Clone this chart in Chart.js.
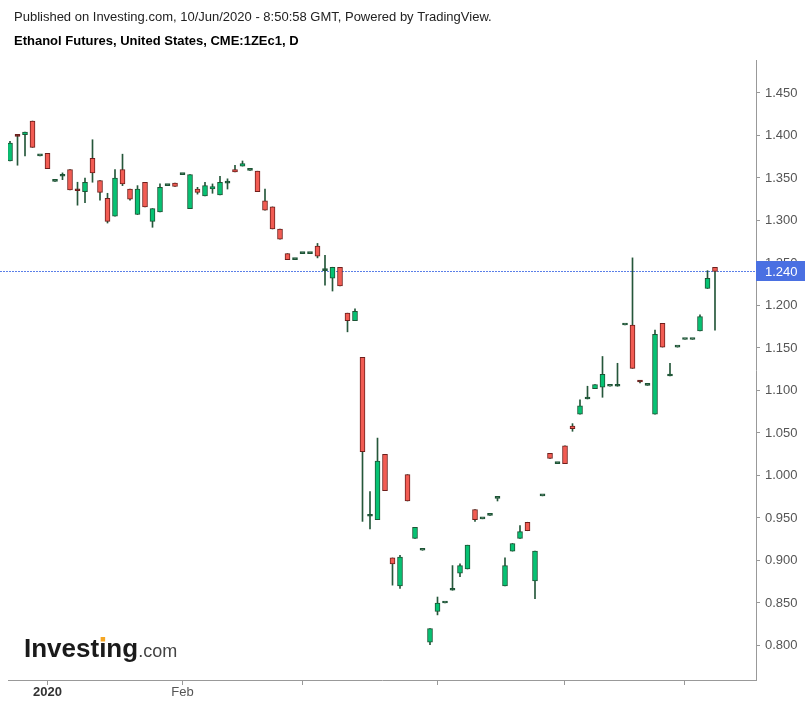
<!DOCTYPE html>
<html><head><meta charset="utf-8">
<script src="https://cdn.jsdelivr.net/npm/chart.js@4.4.1/dist/chart.umd.min.js"></script>
<style>html,body{margin:0;padding:0;background:#fff;}#wrap{width:812px;height:707px;position:relative;}</style>
</head><body><div id="wrap"><canvas id="c" width="812" height="707"></canvas></div>
<script>
// bar slots (trading sessions shown by TradingView)
const slots = [0,1,2,3,4,5,6,7,8,9,10,11,12,13,14,15,16,17,18,19,20,21,22,23,24,25,26,27,28,29,30,31,32,33,34,35,36,37,38,39,40,41,42,43,44,45,46,47,48,49,50,51,52,53,54,55,56,57,58,59,60,61,62,63,64,65,66,67,68,69,70,71,72,73,74,75,76,77,78,79,80,81,82,83,84,85,86,87,88,89,90,91,92,93,94];
const openP  = [1.370,1.400,1.401,1.417,1.376,1.379,1.346,1.352,1.360,1.337,1.334,1.373,1.347,1.326,1.305,1.360,1.337,1.307,1.345,1.299,1.310,1.341,1.344,1.354,1.314,1.337,1.329,1.337,1.330,1.344,1.360,1.364,1.359,1.358,1.323,1.316,1.290,1.261,1.254,1.261,1.261,1.270,1.241,1.232,1.245,1.191,1.182,1.139,0.952,0.948,1.025,0.903,0.870,1.001,0.926,0.912,0.804,0.840,0.850,0.865,0.885,0.890,0.960,0.949,0.953,0.973,0.870,0.911,0.926,0.945,0.876,0.976,1.026,1.014,1.035,1.058,1.072,1.090,1.102,1.104,1.105,1.105,1.177,1.177,1.111,1.106,1.072,1.179,1.117,1.151,1.160,1.160,1.170,1.220,1.245];
const highP  = [1.393,1.401,1.404,1.417,1.376,1.379,1.346,1.356,1.360,1.345,1.350,1.395,1.347,1.332,1.360,1.378,1.337,1.341,1.345,1.314,1.343,1.341,1.344,1.354,1.354,1.339,1.345,1.343,1.352,1.349,1.365,1.370,1.359,1.358,1.337,1.316,1.290,1.261,1.254,1.261,1.261,1.273,1.259,1.245,1.245,1.191,1.196,1.139,0.981,1.044,1.025,0.903,0.906,1.001,0.939,0.912,0.820,0.857,0.850,0.894,0.896,0.918,0.960,0.949,0.953,0.973,0.903,0.920,0.941,0.945,0.911,0.976,1.026,1.014,1.035,1.061,1.089,1.105,1.107,1.140,1.105,1.132,1.177,1.256,1.112,1.106,1.171,1.179,1.132,1.151,1.160,1.160,1.189,1.241,1.245];
const lowP   = [1.370,1.365,1.376,1.386,1.376,1.361,1.346,1.348,1.336,1.318,1.321,1.345,1.324,1.297,1.305,1.341,1.324,1.307,1.316,1.292,1.310,1.341,1.340,1.354,1.314,1.331,1.329,1.332,1.330,1.337,1.357,1.364,1.359,1.334,1.312,1.290,1.278,1.254,1.254,1.261,1.261,1.256,1.224,1.217,1.223,1.169,1.182,0.946,0.937,0.948,0.982,0.871,0.867,0.970,0.926,0.912,0.801,0.836,0.850,0.865,0.881,0.890,0.946,0.949,0.953,0.970,0.870,0.911,0.926,0.935,0.855,0.976,1.020,1.014,1.014,1.052,1.072,1.090,1.102,1.092,1.105,1.105,1.177,1.126,1.109,1.106,1.072,1.151,1.117,1.151,1.160,1.160,1.170,1.220,1.171];
const closeP = [1.391,1.399,1.404,1.386,1.376,1.361,1.346,1.354,1.336,1.335,1.345,1.356,1.333,1.299,1.350,1.343,1.325,1.337,1.316,1.314,1.339,1.341,1.340,1.354,1.354,1.333,1.341,1.340,1.345,1.344,1.357,1.367,1.359,1.334,1.312,1.290,1.278,1.254,1.254,1.261,1.261,1.258,1.242,1.245,1.223,1.182,1.193,1.028,0.953,1.017,0.982,0.896,0.904,0.970,0.939,0.912,0.820,0.850,0.850,0.865,0.894,0.918,0.948,0.949,0.953,0.973,0.894,0.920,0.934,0.935,0.911,0.976,1.020,1.014,1.014,1.055,1.082,1.090,1.107,1.119,1.105,1.107,1.177,1.126,1.110,1.106,1.166,1.151,1.117,1.151,1.160,1.160,1.187,1.232,1.240];
// axis ticks
const xTickSlots  = [5, 23, 39, 57, 74, 90];
const xTickLabels = ['2020', 'Feb', '', '', '', ''];
const yTickValues = [0.80,0.85,0.90,0.95,1.00,1.05,1.10,1.15,1.20,1.25,1.30,1.35,1.40,1.45];

const UP='#06c273', DOWN='#f25c53', UPB='#1c5435', DOWNB='#6e1f1c', WICK='#25573a';
const isDoji = i => Math.abs(closeP[i]-openP[i]) < 0.0025;
const bodyFill = slots.map((s,i)=> closeP[i]>openP[i] ? (isDoji(i)?UPB:UP) : closeP[i]<openP[i] ? (isDoji(i)?DOWNB:DOWN) : UPB);
const bodyBorder = slots.map((s,i)=> closeP[i]<openP[i] ? DOWNB : UPB);

const FONT='"Liberation Sans", Arial, sans-serif';
const lastClose = closeP[closeP.length-1];

const decor = {
  id:'decor',
  beforeDatasetsDraw(chart){
    const {ctx, chartArea:a, scales:{y}} = chart;
    const py = Math.round(y.getPixelForValue(lastClose))+0.5;
    ctx.save();
    ctx.strokeStyle='#5b7fe8'; ctx.lineWidth=1; ctx.setLineDash([2,1]);
    ctx.beginPath(); ctx.moveTo(0,py); ctx.lineTo(a.right,py); ctx.stroke();
    ctx.restore();
  },
  afterDraw(chart){
    const {ctx, chartArea:a, scales:{y}} = chart;
    ctx.save();
    ctx.textBaseline='middle'; ctx.textAlign='left';
    ctx.fillStyle='#222'; ctx.font='13px '+FONT;
    ctx.fillText('Published on Investing.com, 10/Jun/2020 - 8:50:58 GMT, Powered by TradingView.', 14, 17);
    ctx.fillStyle='#000'; ctx.font='bold 13px '+FONT;
    ctx.fillText('Ethanol Futures, United States, CME:1ZEc1, D', 14, 41);
    // price label
    const py = Math.round(y.getPixelForValue(lastClose));
    ctx.fillStyle='#4a70e2';
    ctx.fillRect(a.right, py-10, 49, 20);
    ctx.fillStyle='#fff'; ctx.font='13px '+FONT;
    ctx.fillText(lastClose.toFixed(3), a.right+9, py+1);
    // logo
    ctx.textBaseline='alphabetic';
    ctx.font='bold 26px '+FONT; ctx.fillStyle='#1a1a1a';
    const w = ctx.measureText('Investing').width;
    ctx.fillText('Investing', 24, 657);
    const xi = 24 + ctx.measureText('Invest').width;
    ctx.fillStyle='#f5a623'; ctx.fillRect(xi+1.5, 637, 4.5, 4.5);
    ctx.font='18px '+FONT; ctx.fillStyle='#444';
    ctx.fillText('.com', 24+w, 657);
    ctx.restore();
  }
};

new Chart(document.getElementById('c'), {
  type:'bar',
  data:{ datasets:[
    { label:'body', order:0, data: slots.map((s,i)=>({x:s, y:[openP[i], closeP[i]]})),
      backgroundColor: bodyFill, borderColor: bodyBorder, borderWidth:1, borderSkipped:false,
      barThickness:5, minBarLength:2, grouped:false },
    { label:'wick', order:1, data: slots.map((s,i)=>({x:s, y:[lowP[i], highP[i]]})),
      backgroundColor: WICK, borderWidth:0, barThickness:1, grouped:false }
  ]},
  options:{
    responsive:false, animation:false, devicePixelRatio:1,
    layout:{ padding:{ left:8, top:60, right:0, bottom:0 } },
    plugins:{ legend:{display:false}, tooltip:{enabled:false} },
    scales:{
      x:{ type:'linear', min:-0.267, max:99.467, offset:false,
        afterBuildTicks: s => { s.ticks = xTickSlots.map(v=>({value:v})); },
        afterFit: s => { s.height = 27; },
        grid:{ offset:false, drawOnChartArea:false, drawTicks:true, tickLength:5, color:'#999' },
        border:{ display:true, color:'#999' },
        ticks:{ autoSkip:false, maxRotation:0, padding:0,
          callback:(v,i)=> xTickLabels[i],
          color: c => c.index===0 ? '#333' : '#555',
          font: c => ({ family:FONT, size:13, weight: c.index===0 ? 'bold' : 'normal' }) }
      },
      y:{ position:'right', min:0.7594, max:1.4888,
        afterBuildTicks: s => { s.ticks = yTickValues.map(v=>({value:v})); },
        afterFit: s => { s.width = 56; },
        grid:{ offset:false, drawOnChartArea:false, drawTicks:true, tickLength:4, color:'#999' },
        border:{ display:true, color:'#999' },
        ticks:{ padding:5, color:'#555', font:{ family:FONT, size:13 }, callback: v => v.toFixed(3) }
      }
    }
  },
  plugins:[decor]
});
</script></body></html>
